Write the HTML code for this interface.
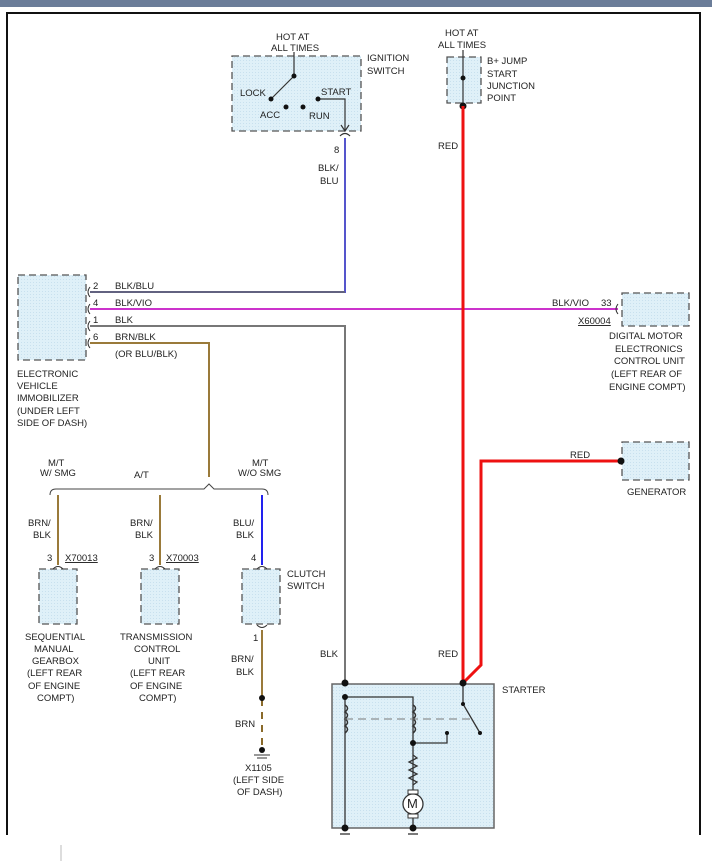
<!DOCTYPE html>
<html><head><meta charset="utf-8"><style>
html,body{margin:0;padding:0;background:#fff;width:712px;height:861px;overflow:hidden}
svg text{font-family:"Liberation Sans",sans-serif;font-size:9.5px;fill:#222}
</style></head><body>
<svg width="712" height="861" viewBox="0 0 712 861" xmlns="http://www.w3.org/2000/svg">
<defs>
<pattern id="dots" width="3" height="3" patternUnits="userSpaceOnUse"><rect width="3" height="3" fill="#dff0f8"/><rect width="1" height="1" fill="#c8e0ee"/></pattern>
</defs>
<rect x="0" y="0" width="712" height="7" fill="#6b7d99"/>
<!-- frame -->
<path d="M7 835 V13 H700 V835" fill="none" stroke="#111" stroke-width="2"/>
<line x1="61" y1="845" x2="61" y2="861" stroke="#bbb" stroke-width="1"/>

<g fill="url(#dots)" stroke="#555" stroke-width="1.3" stroke-dasharray="7,4">
<rect x="232" y="56" width="129" height="75"/>
<rect x="447" y="57" width="34" height="46"/>
<rect x="18" y="275" width="68" height="85"/>
<rect x="622" y="293" width="67" height="33"/>
<rect x="622" y="442" width="67" height="38"/>
<rect x="39" y="569" width="38" height="55"/>
<rect x="141" y="569" width="38" height="55"/>
<rect x="242" y="569" width="38" height="55"/>
</g>
<rect x="332" y="684" width="162" height="144" fill="url(#dots)" stroke="#666" stroke-width="1.5"/>

<!-- ignition switch internals -->
<g stroke="#333" stroke-width="1.2" fill="none">
<line x1="294" y1="52" x2="294" y2="76"/>
<line x1="294" y1="76" x2="271" y2="99"/>
<path d="M318 99 H345 V130"/>
<path d="M341 125 L345 131 L349 125"/>
<path d="M340 136 Q345 131 350 136"/>
<line x1="463" y1="50" x2="463" y2="106"/>
</g>
<g fill="#111">
<circle cx="294" cy="76" r="2.5"/><circle cx="271" cy="99" r="2.5"/><circle cx="286" cy="107" r="2.5"/><circle cx="303" cy="107" r="2.5"/><circle cx="318" cy="99" r="2.5"/>
<circle cx="463" cy="78" r="2.5"/><circle cx="463" cy="106" r="3.5"/>
</g>

<!-- wires -->
<g fill="none" stroke-width="2">
<path d="M345 138 V292 H90" stroke="#5555cc"/>
<path d="M90 292 H345" stroke="#666" stroke-width="1.5"/>
<path d="M90 309 H618" stroke="#cc33cc"/>
<path d="M90 326 H345 V683" stroke="#777"/>
<path d="M90 343 H209 V477" stroke="#9a7a3a"/>
<path d="M463 106 V683" stroke="#ee1111" stroke-width="3"/>
<path d="M620 461 H481 V665 L463 683" stroke="#ee1111" stroke-width="3"/>
<path d="M58 495 V565" stroke="#9a7a3a"/>
<path d="M160 495 V565" stroke="#9a7a3a"/>
<path d="M262 495 V565" stroke="#2222ee"/>
<path d="M262 630 V697" stroke="#9a7a3a"/>
<path d="M262 699 V750" stroke="#8a6a2a" stroke-dasharray="7,6"/>
</g>
<!-- connectors immobilizer -->
<g stroke="#333" fill="none" stroke-width="1">
<path d="M90 287 Q86 292 90 297"/><path d="M90 304 Q86 309 90 314"/><path d="M90 321 Q86 326 90 331"/><path d="M90 338 Q86 343 90 348"/>
<path d="M618 304 Q614 309 618 314"/>
<path d="M53 569 Q58 564 63 569"/><path d="M155 569 Q160 564 165 569"/><path d="M257 569 Q262 564 267 569"/>
<path d="M257 625 Q262 630 267 625"/>
<path d="M50 495 Q50 489 56 489 H204 L209 484 L214 489 H262 Q268 489 268 495" stroke="#444"/>
<line x1="254" y1="755" x2="270" y2="755"/><line x1="257" y1="758" x2="267" y2="758"/>
</g>
<g fill="#111"><circle cx="262" cy="698" r="3"/><circle cx="262" cy="750" r="3"/><circle cx="621" cy="461" r="3.5"/></g>

<!-- starter internals -->
<g stroke="#333" stroke-width="1.3" fill="none">
<path d="M345 697 V828"/>
<path d="M345 697 H413 V828"/>
<path d="M345 705 q5 3 0 7 q5 3 0 7 q5 3 0 7 q5 3 0 7" stroke-width="1.5"/>
<path d="M413 705 q5 3 0 7 q5 3 0 7 q5 3 0 7 q5 3 0 7" stroke-width="1.5"/>
<path d="M413 743 H447 V733"/>
<path d="M463 683 V704 L480 733"/>
<line x1="345" y1="719" x2="475" y2="719" stroke="#777" stroke-dasharray="8,5" stroke-width="1"/>
<path d="M413 755 l4 3 l-8 4 l8 4 l-8 4 l8 4 l-8 4 l8 4 l-4 3" fill="none"/>
<circle cx="413" cy="804" r="10" fill="#fff"/>
<line x1="340" y1="834" x2="350" y2="834"/><line x1="408" y1="834" x2="418" y2="834"/>
</g>
<rect x="408" y="790" width="10" height="4" fill="#fff" stroke="#333"/>
<rect x="408" y="814" width="10" height="4" fill="#fff" stroke="#333"/>
<text x="407" y="808" style="font-size:13px">M</text>
<g fill="#111"><circle cx="345" cy="683" r="3.5"/><circle cx="463" cy="683" r="3.5"/><circle cx="345" cy="697" r="3"/><circle cx="413" cy="743" r="3"/><circle cx="447" cy="733" r="2"/><circle cx="463" cy="704" r="2"/><circle cx="480" cy="733" r="2"/><circle cx="345" cy="828" r="3.5"/><circle cx="413" cy="828" r="3.5"/></g>

<!-- labels -->
<text x="276" y="40">HOT AT</text><text x="271" y="51">ALL TIMES</text>
<text x="367" y="61">IGNITION</text><text x="367" y="74">SWITCH</text>
<text x="240" y="96">LOCK</text><text x="260" y="118">ACC</text><text x="309" y="119">RUN</text><text x="321" y="95">START</text>
<text x="334" y="153">8</text><text x="318" y="171">BLK/</text><text x="320" y="184">BLU</text>
<text x="445" y="36">HOT AT</text><text x="438" y="48">ALL TIMES</text>
<text x="487" y="64">B+ JUMP</text><text x="487" y="77">START</text><text x="487" y="89">JUNCTION</text><text x="487" y="101">POINT</text>
<text x="438" y="149">RED</text>
<text x="93" y="289">2</text><text x="115" y="289">BLK/BLU</text>
<text x="93" y="306">4</text><text x="115" y="306">BLK/VIO</text>
<text x="93" y="323">1</text><text x="115" y="323">BLK</text>
<text x="93" y="340">6</text><text x="115" y="340">BRN/BLK</text>
<text x="115" y="357">(OR BLU/BLK)</text>
<text x="17" y="377">ELECTRONIC</text><text x="17" y="389">VEHICLE</text><text x="17" y="401">IMMOBILIZER</text><text x="17" y="414">(UNDER LEFT</text><text x="17" y="426">SIDE OF DASH)</text>
<text x="552" y="306">BLK/VIO</text><text x="601" y="306">33</text>
<text x="578" y="324" text-decoration="underline">X60004</text>
<text x="609" y="339">DIGITAL MOTOR</text><text x="615" y="352">ELECTRONICS</text><text x="614" y="364">CONTROL UNIT</text><text x="611" y="377">(LEFT REAR OF</text><text x="609" y="390">ENGINE COMPT)</text>
<text x="570" y="458">RED</text><text x="627" y="495">GENERATOR</text>
<text x="48" y="466">M/T</text><text x="40" y="476">W/ SMG</text>
<text x="134" y="478">A/T</text>
<text x="252" y="466">M/T</text><text x="238" y="476">W/O SMG</text>
<text x="28" y="526">BRN/</text><text x="33" y="538">BLK</text>
<text x="130" y="526">BRN/</text><text x="135" y="538">BLK</text>
<text x="233" y="526">BLU/</text><text x="236" y="538">BLK</text>
<text x="47" y="561">3</text><text x="65" y="561" text-decoration="underline">X70013</text>
<text x="149" y="561">3</text><text x="166" y="561" text-decoration="underline">X70003</text>
<text x="251" y="561">4</text>
<text x="287" y="577">CLUTCH</text><text x="287" y="589">SWITCH</text>
<text x="25" y="640">SEQUENTIAL</text><text x="34" y="652">MANUAL</text><text x="32" y="664">GEARBOX</text><text x="27" y="676">(LEFT REAR</text><text x="28" y="689">OF ENGINE</text><text x="37" y="701">COMPT)</text>
<text x="120" y="640">TRANSMISSION</text><text x="134" y="652">CONTROL</text><text x="148" y="664">UNIT</text><text x="130" y="676">(LEFT REAR</text><text x="130" y="689">OF ENGINE</text><text x="139" y="701">COMPT)</text>
<text x="253" y="641">1</text><text x="231" y="662">BRN/</text><text x="236" y="675">BLK</text>
<text x="235" y="727">BRN</text>
<text x="245" y="771">X1105</text><text x="233" y="783">(LEFT SIDE</text><text x="237" y="795">OF DASH)</text>
<text x="320" y="657">BLK</text><text x="438" y="657">RED</text>
<text x="502" y="693">STARTER</text>
</svg>
</body></html>
